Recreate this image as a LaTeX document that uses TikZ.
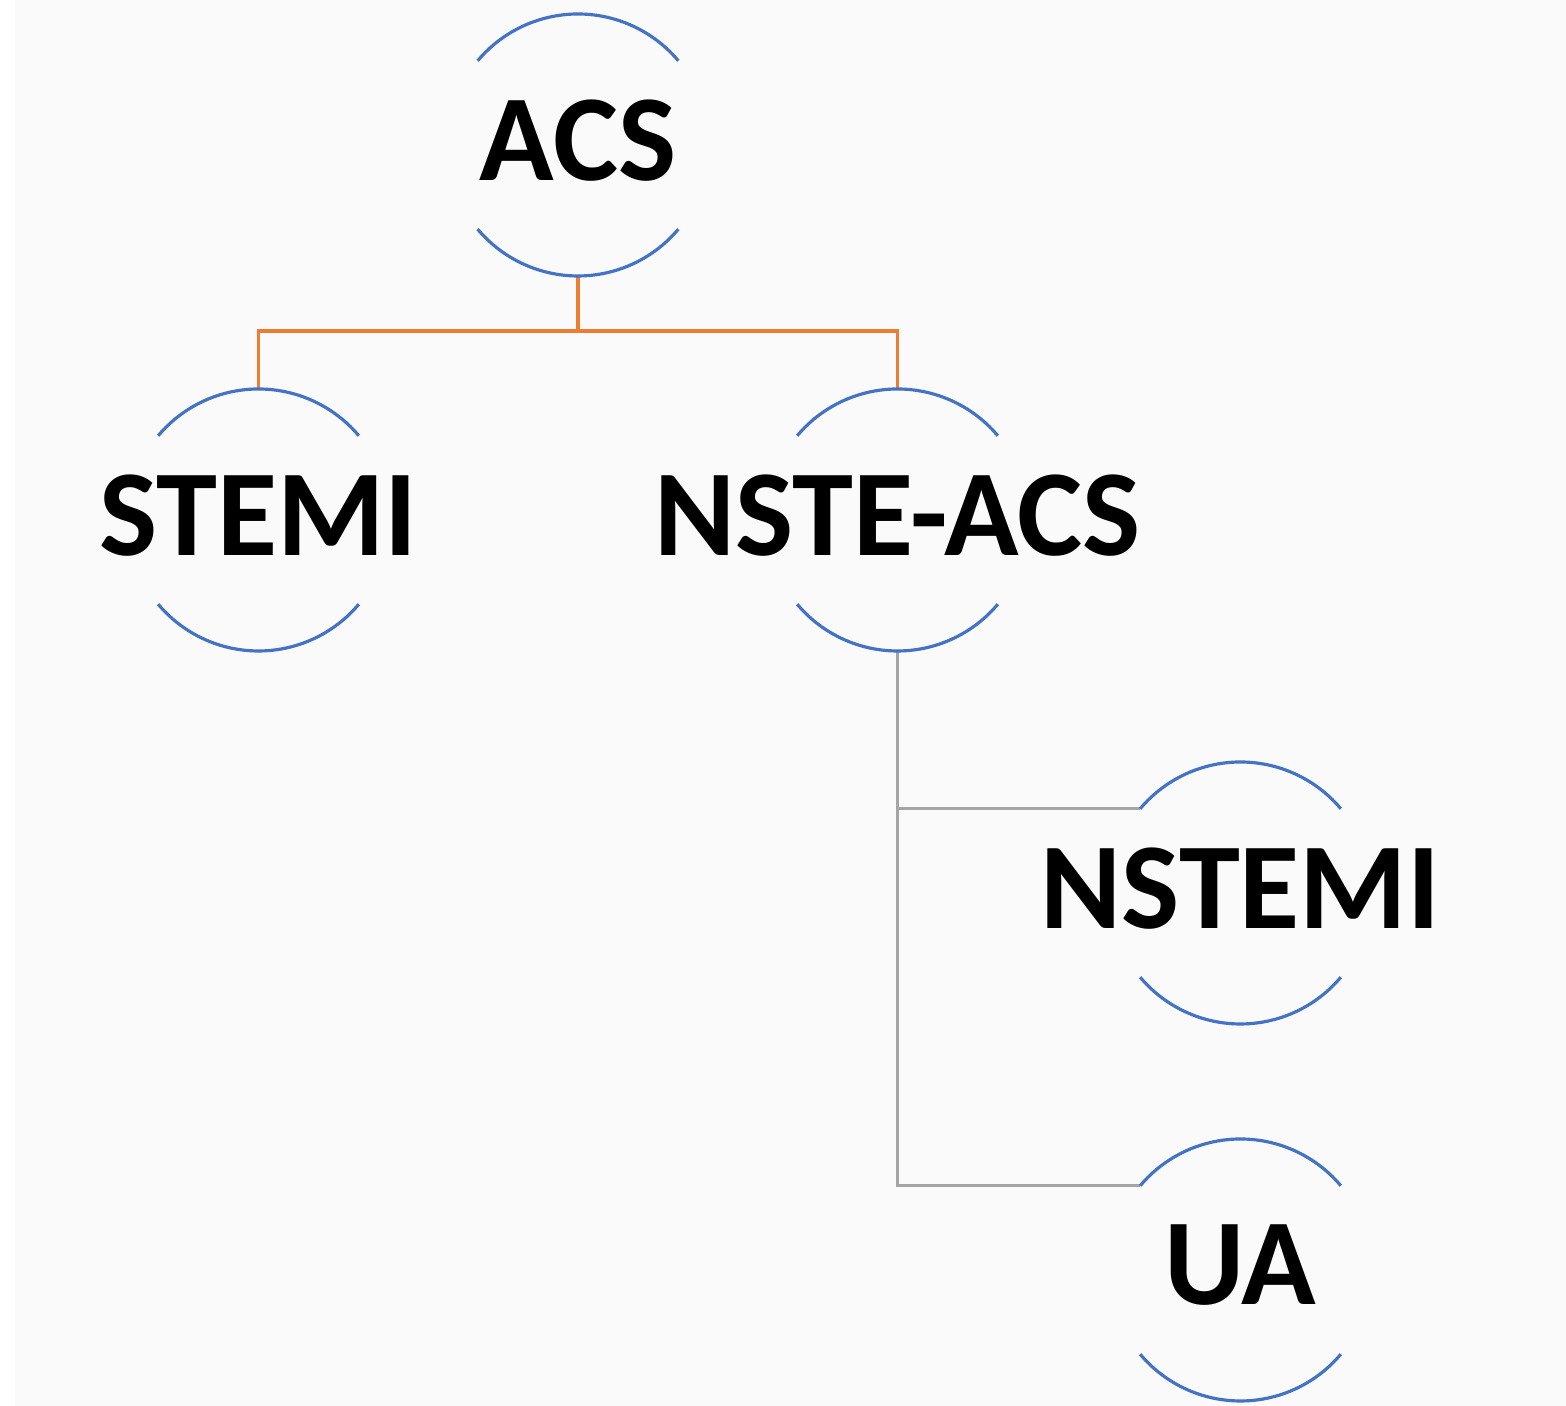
\documentclass[tikz,border=0pt]{standalone}
\usepackage{fontspec}
\setmainfont{Carlito}
\usetikzlibrary{positioning,calc,trees}
\definecolor{ringblue}{HTML}{4472C4}
\definecolor{linkorange}{HTML}{ED7D31}
\definecolor{linkgray}{HTML}{A5A5A5}
\definecolor{paper}{HTML}{FAFAFA}

\begin{document}
\begin{tikzpicture}[level 1/.style={sibling distance=63.9mm, level distance=37.5mm,
   edge from parent/.style={draw=linkorange, line width=0.9pt},
   edge from parent path={([yshift=-13.1mm]\tikzparentnode.center) -- ++(0,-5.5mm) -| ([yshift=13.1mm]\tikzchildnode.center)}},
level 2/.style={grow via three points={one child at (3.43,-3.73) and two children at (3.43,-3.73) and (3.43,-7.50)},
   edge from parent/.style={draw=linkgray, line width=0.9pt},
   edge from parent path={([yshift=-13.1mm]\tikzparentnode.center) |- ([shift={(140:13.1mm)}]\tikzchildnode.center)}},
every node/.style={font=\fontsize{35}{42}\selectfont\bfseries, inner sep=0pt, text depth=1mm}]
\useasboundingbox (0,0) rectangle (15.66,14.06);
\fill[white] (0,0) rectangle (15.66,14.06);
\fill[paper] (0.15,0) rectangle (15.66,14.06);
\node (a) at (5.78,12.61) {ACS}
child{ node (b) {STEMI} }
child{ node (c) {NSTE-ACS}
   child{ node (d) {NSTEMI} }
   child{ node (e) {UA} }
}
;
% open rings round every label
\foreach \n in {a,b,c,d,e}{
   \draw[ringblue, line width=0.9pt] ([shift={(40:13.1mm)}]\n.center) arc[start angle=40, end angle=140, radius=13.1mm];
   \draw[ringblue, line width=0.9pt] ([shift={(220:13.1mm)}]\n.center) arc[start angle=220, end angle=320, radius=13.1mm];
}
\end{tikzpicture}
\end{document}
